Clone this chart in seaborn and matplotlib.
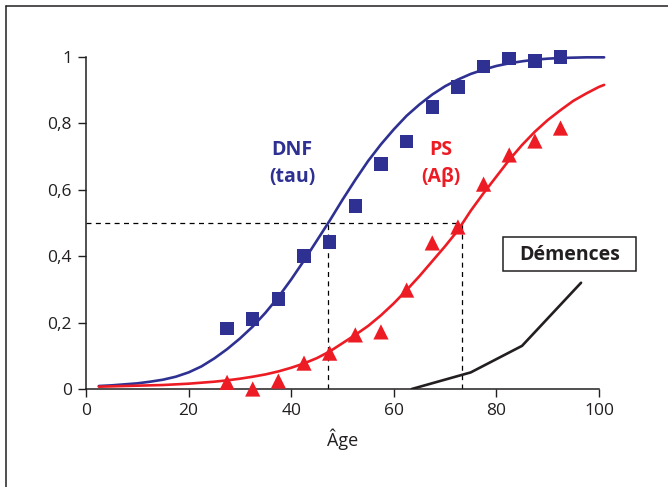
import matplotlib
matplotlib.use("Agg")
import matplotlib.pyplot as plt
import seaborn as sns
import pandas as pd
from matplotlib.lines import Line2D
from matplotlib.patches import Rectangle

# ---- data ----
age_pts = [27.5, 32.5, 37.5, 42.5, 47.5, 52.5, 57.5, 62.5, 67.5, 72.5, 77.5, 82.5, 87.5, 92.5]
dnf_pts = [0.182, 0.211, 0.271, 0.40, 0.443, 0.552, 0.678, 0.745, 0.85, 0.91, 0.971, 0.996, 0.988, 1.0]
ps_pts = [0.02, 0.0, 0.024, 0.078, 0.108, 0.163, 0.172, 0.298, 0.44, 0.488, 0.617, 0.705, 0.747, 0.786]

age_curve = [2.5, 5, 7.5, 10, 12.5, 15, 17.5, 20, 22.5, 25, 27.5, 30, 32.5, 35, 37.5, 40,
             42.5, 45, 47.5, 50, 52.5, 55, 57.5, 60, 62.5, 65, 67.5, 70, 72.5, 75, 77.5,
             80, 82.5, 85, 87.5, 90, 92.5, 95, 97.5, 100, 101]
dnf_curve = [0.009, 0.011, 0.014, 0.017, 0.022, 0.028, 0.037, 0.05, 0.068, 0.092, 0.12, 0.152,
             0.188, 0.23, 0.277, 0.33, 0.387, 0.447, 0.507, 0.57, 0.63, 0.687, 0.737, 0.782,
             0.823, 0.857, 0.887, 0.912, 0.932, 0.949, 0.962, 0.973, 0.981, 0.987, 0.992,
             0.995, 0.997, 0.998, 0.999, 0.999, 0.999]
ps_curve = [0.007, 0.008, 0.009, 0.01, 0.011, 0.012, 0.014, 0.016, 0.019, 0.022, 0.026, 0.031,
            0.037, 0.044, 0.053, 0.064, 0.077, 0.093, 0.113, 0.138, 0.163, 0.19, 0.222, 0.258,
            0.298, 0.34, 0.385, 0.43, 0.478, 0.537, 0.59, 0.64, 0.69, 0.735, 0.775, 0.81,
            0.84, 0.868, 0.89, 0.91, 0.916]

dem_age = [63.5, 75, 85, 96.5]
dem_val = [0.0, 0.05, 0.13, 0.32]

half_dnf = 47.2
half_ps = 73.3

x_ticks = [0, 20, 40, 60, 80, 100]
y_ticks = [0, 0.2, 0.4, 0.6, 0.8, 1]
y_ticklabels = ["0", "0,2", "0,4", "0,6", "0,8", "1"]

BLUE = "#2E3192"
RED = "#ED1C24"
INK = "#231F20"

sns.set_style("ticks")
plt.rcParams["font.family"] = ["Open Sans", "DejaVu Sans"]

fig = plt.figure(figsize=(6.68, 4.87), dpi=100)
ax = fig.add_axes([86 / 668, 1 - 389 / 487, (599 - 86) / 668, (389 - 57) / 487])

curves = pd.DataFrame({"age": age_curve, "dnf": dnf_curve, "ps": ps_curve})
pts = pd.DataFrame({"age": age_pts, "dnf": dnf_pts, "ps": ps_pts})
dem = pd.DataFrame({"age": dem_age, "val": dem_val})

# dashed guides
dkw = dict(color="black", lw=0.9, linestyle=(0, (4, 3.5)), zorder=1)
ax.plot([0, half_ps], [0.5, 0.5], **dkw)
ax.plot([half_dnf, half_dnf], [0, 0.5], **dkw)
ax.plot([half_ps, half_ps], [0, 0.5], **dkw)

sns.lineplot(data=curves, x="age", y="dnf", ax=ax, color=BLUE, lw=1.9, sort=False, clip_on=False, zorder=3)
sns.lineplot(data=curves, x="age", y="ps", ax=ax, color=RED, lw=1.9, sort=False, clip_on=False, zorder=3)
sns.lineplot(data=dem, x="age", y="val", ax=ax, color=INK, lw=1.9, sort=False, zorder=3)

sns.scatterplot(data=pts, x="age", y="dnf", ax=ax, marker="s", s=95, color=BLUE,
                edgecolor="none", clip_on=False, zorder=4)
sns.scatterplot(data=pts, x="age", y="ps", ax=ax, marker="^", s=120, color=RED,
                edgecolor="none", clip_on=False, zorder=4)

ax.set_xlim(0, 100)
ax.set_ylim(0, 1)
ax.set_xticks(x_ticks)
ax.set_yticks(y_ticks)
ax.set_yticklabels(y_ticklabels)
ax.tick_params(axis="both", labelsize=12.5, length=6, width=1, color=INK,
               labelcolor=INK, pad=4, direction="out")
for s in ["top", "right"]:
    ax.spines[s].set_visible(False)
for s in ["left", "bottom"]:
    ax.spines[s].set_linewidth(1.1)
    ax.spines[s].set_color(INK)
ax.set_xlabel("Âge", fontsize=13, color=INK, labelpad=7)
ax.set_ylabel("")

ax.text(40.2, 0.72, "DNF", color=BLUE, fontsize=14, fontweight="bold", ha="center", va="center")
ax.text(40.2, 0.64, "(tau)", color=BLUE, fontsize=14, fontweight="bold", ha="center", va="center")
ax.text(69.2, 0.72, "PS", color=RED, fontsize=14, fontweight="bold", ha="center", va="center")
ax.text(69.2, 0.64, "(Aβ)", color=RED, fontsize=14, fontweight="bold", ha="center", va="center")

ax.add_patch(Rectangle((81.3, 0.354), 25.9, 0.104, fc="white", ec=INK, lw=1.1,
                       clip_on=False, zorder=5))
ax.text(94.3, 0.405, "Démences", color=INK, fontsize=14, fontweight="bold",
        ha="center", va="center", zorder=6)

# outer frame (top and left edges)
fig.add_artist(Line2D([6 / 668, 1.0], [1 - 6 / 487, 1 - 6 / 487], transform=fig.transFigure,
                      color=INK, lw=1.1))
fig.add_artist(Line2D([6 / 668, 6 / 668], [0.0, 1 - 6 / 487], transform=fig.transFigure,
                      color=INK, lw=1.1))

fig.savefig("out.png", dpi=100)
